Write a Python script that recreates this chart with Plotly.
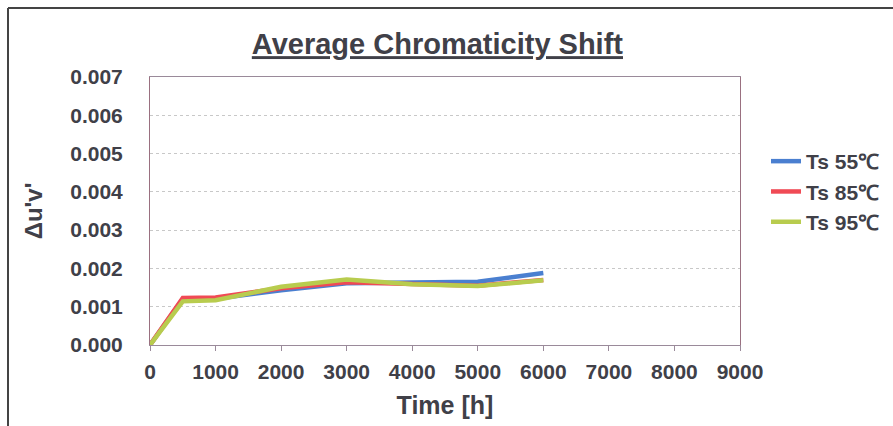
import plotly.graph_objects as go

time_h = [0, 500, 1000, 2000, 3000, 4000, 5000, 6000]
ts55 = [0.0, 0.00120, 0.00121, 0.00143, 0.00161, 0.00163, 0.00165, 0.00188]
ts85 = [0.0, 0.00123, 0.00124, 0.00148, 0.00164, 0.00160, 0.00155, 0.00170]
ts95 = [0.0, 0.00114, 0.00117, 0.00152, 0.00171, 0.00159, 0.00154, 0.00169]
names = ["Ts 55℃", "Ts 85℃", "Ts 95℃"]
colors = ["#4a7fd0", "#f04a55", "#b8cc4e"]
x_ticks = [0, 1000, 2000, 3000, 4000, 5000, 6000, 7000, 8000, 9000]
y_ticks = [0.000, 0.001, 0.002, 0.003, 0.004, 0.005, 0.006, 0.007]

txt = "#404048"
font = "Liberation Sans, Arial, sans-serif"

fig = go.Figure()
for name, vals, c in zip(names, [ts55, ts85, ts95], colors):
    fig.add_trace(go.Scatter(x=time_h, y=vals, mode="lines", name=name,
                             line=dict(color=c, width=4.5)))

L, R, T, B = 150, 153, 77, 81
W, H = 893, 426
pw, ph = W - L - R, H - T - B

def px(x):
    return (x - L) / pw

def py(y):
    return (H - B - y) / ph

fig.update_layout(
    width=W, height=H,
    margin=dict(l=L, r=R, t=T, b=B, autoexpand=False),
    paper_bgcolor="white", plot_bgcolor="white",
    font=dict(family=font, color=txt),
    title=dict(text="<b><u>Average Chromaticity Shift</u></b>", x=px(439), xanchor="center",
               y=1 - 44 / H, yanchor="middle", font=dict(size=29, color=txt)),
    xaxis=dict(range=[0, 9000], tickvals=x_ticks, ticktext=[str(v) for v in x_ticks],
               showgrid=False, zeroline=False, showline=True, linecolor="#9a8a9a", mirror=True,
               ticks="outside", ticklen=5, tickcolor="#9a8a9a", ticklabelstandoff=3,
               tickfont=dict(size=21, family=font, color=txt, weight="bold"),
               title=dict(text="<b>Time [h]</b>", font=dict(size=25, color=txt), standoff=14)),
    yaxis=dict(range=[0, 0.007], tickvals=y_ticks, ticktext=[f"{v:.3f}" for v in y_ticks],
               showgrid=True, gridcolor="#c8c8c8", griddash="dot", zeroline=False,
               showline=True, linecolor="#9a7080", mirror=True, ticks="",
               ticklabelstandoff=22,
               tickfont=dict(size=21, family=font, color=txt, weight="bold"),
               title=dict(text="<b>Δu'v'</b>", font=dict(size=24, color=txt), standoff=20)),
    legend=dict(x=px(766), y=py(141), xanchor="left", yanchor="top",
                font=dict(size=21, color=txt, weight="bold"), tracegroupgap=0,
                itemwidth=30, bgcolor="rgba(0,0,0,0)"),
    showlegend=True,
)

fig.add_shape(type="line", xref="paper", yref="paper", x0=px(8), x1=px(893), y0=py(8), y1=py(8),
              line=dict(color="#444444", width=2))
fig.add_shape(type="line", xref="paper", yref="paper", x0=px(8), x1=px(8), y0=py(8), y1=py(426),
              line=dict(color="#444444", width=2))

fig.write_html("out.html", config={"displayModeBar": False},
               post_script="document.body.style.margin='0';")
